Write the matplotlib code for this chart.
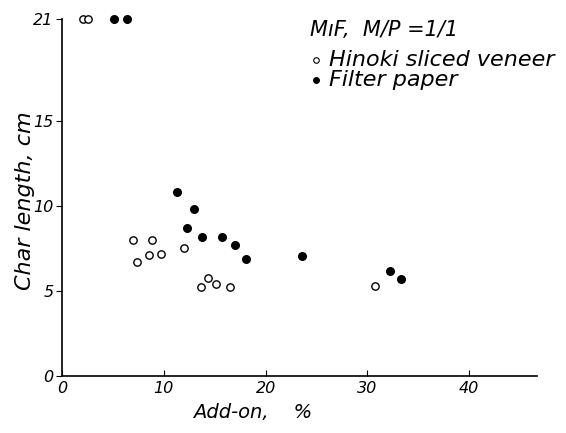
import numpy as np
import matplotlib
matplotlib.use('Agg')
import matplotlib.pyplot as plt

plt.rcParams['font.family'] = ['DejaVu Sans']

## data (char length 21 = infinite)
hinoki_x = [2.1, 2.6, 7.0, 7.4, 8.8, 8.5, 9.7, 12.0, 13.7, 14.3, 15.1, 16.5, 30.7]
hinoki_y = [21, 21, 8.0, 6.7, 8.0, 7.1, 7.2, 7.5, 5.25, 5.75, 5.4, 5.2, 5.3]
filter_x = [5.15, 6.35, 11.3, 12.95, 12.3, 13.8, 15.75, 17.0, 18.1, 23.6, 32.2, 33.3]
filter_y = [21, 21, 10.85, 9.8, 8.7, 8.15, 8.2, 7.7, 6.85, 7.05, 6.2, 5.7]
xticks = [0, 10, 20, 30, 40]
yticks = [0, 5, 10, 15, 21]

fig = plt.figure(figsize=(5.66, 4.33), dpi=100)
ax = fig.add_axes([0.1095, 0.132, 0.84, 0.824])

ax.scatter(hinoki_x, hinoki_y, s=28, facecolors='white', edgecolors='black',
           linewidths=1.0, clip_on=False, zorder=3)
ax.scatter(filter_x, filter_y, s=30, color='black', clip_on=False, zorder=3)

ax.set_xlim(0, 46.7)
ax.set_ylim(0, 21)
ax.set_xticks(xticks)
ax.set_yticks(yticks)
ax.set_xticklabels([str(t) for t in xticks], fontsize=11.5, style='italic')
ax.set_yticklabels([str(t) for t in yticks], fontsize=11.5, style='italic')
ax.tick_params(axis='x', direction='in', length=4, width=0.8, pad=4)
ax.tick_params(axis='y', direction='out', length=4, width=0.8, pad=2)
for s in ['top', 'right']:
    ax.spines[s].set_visible(False)
for s in ['left', 'bottom']:
    ax.spines[s].set_linewidth(1.2)

ax.set_xlabel('Add-on,    %', fontsize=14, style='italic')
ax.xaxis.set_label_coords(0.40, -0.075)
ax.set_ylabel('Char length, cm', fontsize=16, style='italic')
ax.yaxis.set_label_coords(-0.056, 0.49)

ax.text(0.522, 0.969, 'MıF,  M/P =1/1', transform=ax.transAxes,
        fontsize=15, style='italic', va='center')
ax.scatter([0.535], [0.885], transform=ax.transAxes, s=16, facecolors='white',
           edgecolors='black', linewidths=0.8, clip_on=False)
ax.text(0.562, 0.885, 'Hinoki sliced veneer', transform=ax.transAxes,
        fontsize=16, style='italic', va='center')
ax.scatter([0.535], [0.829], transform=ax.transAxes, s=16, color='black', clip_on=False)
ax.text(0.562, 0.829, 'Filter paper', transform=ax.transAxes,
        fontsize=16, style='italic', va='center')

plt.savefig('out.png', dpi=100)
